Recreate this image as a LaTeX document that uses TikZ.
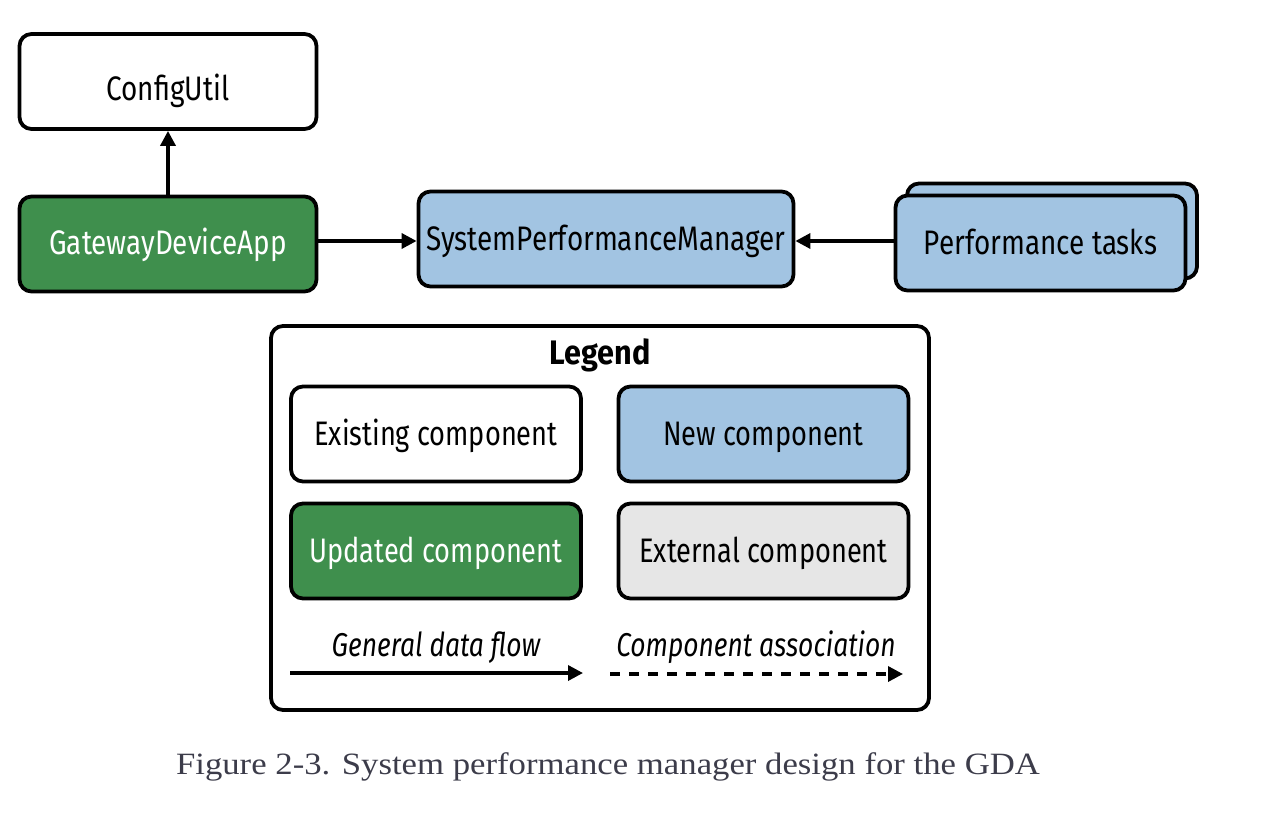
\documentclass[tikz,border=0pt]{standalone}
\usepackage{fontspec}
\setmainfont{Liberation Serif}
\newfontfamily\boxfont[FakeStretch=0.82]{Fira Sans}
\newfontfamily\legboxfont[FakeStretch=0.8]{Fira Sans}
\newfontfamily\lblfont[FakeStretch=0.8]{Fira Sans}
\newfontfamily\legfont[FakeStretch=0.9]{Fira Sans}
\newfontfamily\capfont[FakeStretch=1.12]{Liberation Serif}
\usetikzlibrary{arrows.meta}
\definecolor{gdagreen}{HTML}{3F8F4D}
\definecolor{newblue}{HTML}{A2C4E2}
\definecolor{extgray}{HTML}{E6E6E6}
\definecolor{captiongray}{HTML}{3C3C4A}
\begin{document}
\begin{tikzpicture}[x=1pt,y=-1pt,
  comp/.style={draw=black,line width=3.8pt,rounded corners=12pt,minimum width=297pt,minimum height=95pt,inner sep=0pt,text height=23pt,text depth=0pt,font=\boxfont\fontsize{34}{40}\selectfont,text=black},
  legcomp/.style={comp,minimum width=290pt,font=\legboxfont\fontsize{34}{40}\selectfont},
  flow/.style={line width=3.4pt,-{Triangle[length=15pt,width=15pt]}},
  assoc/.style={line width=3.4pt,dash pattern=on 10pt off 9pt,-{Triangle[length=15pt,width=15pt]}},
  lbl/.style={font=\lblfont\itshape\fontsize{33}{40}\selectfont,inner sep=0pt}
]
\useasboundingbox (0,0) rectangle (1282,830);
\node[comp,fill=white,text height=37pt] (config) at (168,81.5) {ConfigUtil};
\node[comp,fill=gdagreen,text=white,text height=21pt] (gda) at (168,244) {GatewayDeviceApp};
\node[comp,fill=newblue,minimum width=375pt] (spm) at (606,239) {SystemPerformanceManager};
\node[comp,fill=newblue,minimum width=290pt] (perfback) at (1052,231) {};
\node[comp,fill=newblue,minimum width=290pt] (perf) at (1040.5,243) {Performance tasks};
\draw[flow] ([yshift=3pt]gda.east) -- ([yshift=3pt]gda.east -| spm.west);
\draw[flow] ([yshift=2pt]perf.west) -- ([yshift=2pt]perf.west -| spm.east);
\draw[flow] (gda.north) -- (config.south);
% legend
\node[draw=black,line width=3.8pt,rounded corners=12pt,minimum width=658pt,minimum height=384pt,inner sep=0pt] (legend) at (600,518) {};
\node[font=\legfont\bfseries\fontsize{34}{40}\selectfont,inner sep=0pt,text height=23pt,text depth=0pt] (legtitle) at (600,353) {Legend};
\node[legcomp,fill=white] (existing) at (436,434) {Existing component};
\node[legcomp,fill=newblue] (new) at (763.5,434) {New component};
\node[legcomp,fill=gdagreen,text=white] (updated) at (436,551) {Updated component};
\node[legcomp,fill=extgray] (external) at (763.5,551) {External component};
\node[lbl,text height=23pt,text depth=0pt] (flowlbl) at (436,645) {General data flow};
\node[lbl,text height=23pt,text depth=0pt] (assoclbl) at (756,645) {Component association};
\coordinate (f1) at (290,673);
\coordinate (f2) at (583,673);
\coordinate (a1) at (610,674);
\coordinate (a2) at (903,674);
\draw[flow] (f1) -- (f2);
\draw[assoc] (a1) -- (a2);
\node[font=\capfont\fontsize{31}{36}\selectfont,text=captiongray,inner sep=0pt] (caption) at (608,767) {Figure 2-3. System performance manager design for the GDA};
\end{tikzpicture}
\end{document}
